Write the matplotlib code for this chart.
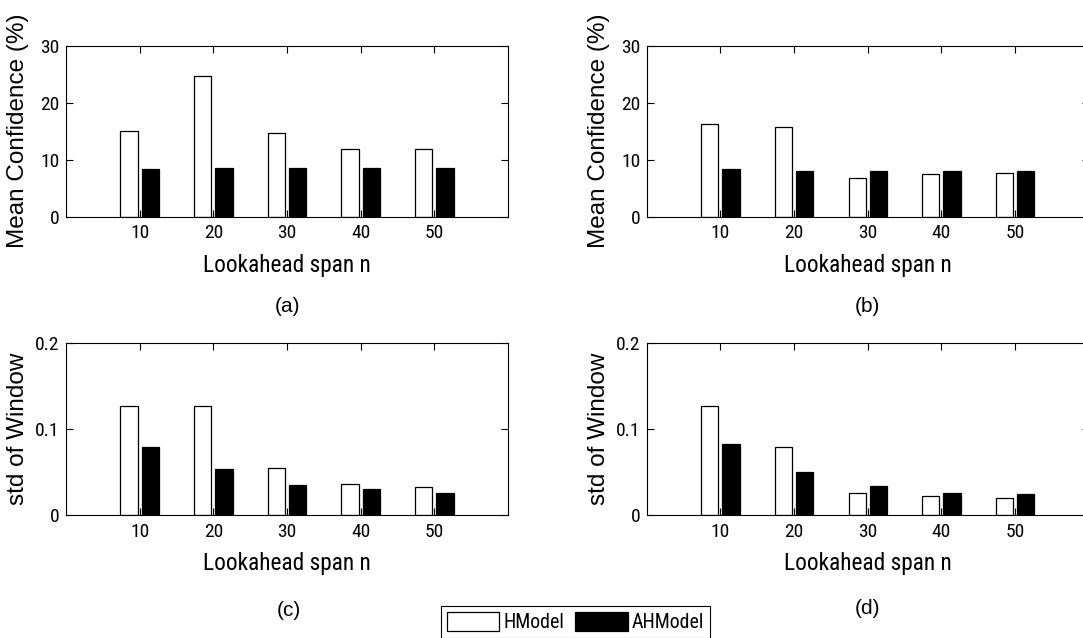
import matplotlib
matplotlib.use("Agg")
import matplotlib.pyplot as plt
from matplotlib import font_manager as fm
import numpy as np

# ---- data ----
spans = [10, 20, 30, 40, 50]
conf_a_hmodel = [15.1, 24.7, 14.6, 11.8, 11.8]
conf_a_ahmodel = [8.3, 8.6, 8.6, 8.6, 8.6]
conf_b_hmodel = [16.2, 15.7, 6.8, 7.5, 7.7]
conf_b_ahmodel = [8.3, 8.0, 8.0, 8.0, 8.0]
std_c_hmodel = [0.126, 0.127, 0.055, 0.036, 0.033]
std_c_ahmodel = [0.0785, 0.053, 0.035, 0.030, 0.026]
std_d_hmodel = [0.127, 0.0785, 0.0255, 0.022, 0.020]
std_d_ahmodel = [0.0824, 0.0495, 0.0333, 0.026, 0.0244]
conf_yticks = [0, 10, 20, 30]
conf_yticklabels = ["0", "10", "20", "30"]
std_yticks = [0, 0.1, 0.2]
std_yticklabels = ["0", "0.1", "0.2"]
series_names = ["HModel", "AHModel"]
panel_tags = ["(a)", "(b)", "(c)", "(d)"]

names = {f.name for f in fm.fontManager.ttflist}
narrow = "Liberation Sans"
for cand in ["Liberation Sans Narrow", "Roboto Condensed", "Archivo Narrow", "PT Sans Narrow"]:
    if cand in names:
        narrow = cand
        break
regular = "Liberation Sans"

W, H = 1083, 638
fig = plt.figure(figsize=(W / 100, H / 100), dpi=100)

def frac_box(left, top, right, bottom):
    return [left / W, 1 - bottom / H, (right - left) / W, (bottom - top) / H]

boxes = [
    frac_box(66.0, 45.7, 508.0, 216.7),
    frac_box(646.7, 45.7, 1088.7, 216.7),
    frac_box(66.0, 342.7, 508.0, 515.0),
    frac_box(646.7, 342.7, 1088.7, 515.0),
]
datasets = [
    (conf_a_hmodel, conf_a_ahmodel, "Mean Confidence (%)", (0, 30), conf_yticks, conf_yticklabels),
    (conf_b_hmodel, conf_b_ahmodel, "Mean Confidence (%)", (0, 30), conf_yticks, conf_yticklabels),
    (std_c_hmodel, std_c_ahmodel, "std of Window", (0, 0.2), std_yticks, std_yticklabels),
    (std_d_hmodel, std_d_ahmodel, "std of Window", (0, 0.2), std_yticks, std_yticklabels),
]
tag_pos = [(287.6, 306.7), (867.3, 306.7), (288.6, 610.0), (867.3, 608.5)]

x = np.array(spans, dtype=float)
bw = 2.35
off = 1.43
handles = None
for i, (box, ds) in enumerate(zip(boxes, datasets)):
    hm, ahm, ylab, ylim, yt, ytl = ds
    ax = fig.add_axes(box)
    b1 = ax.bar(x - off, hm, width=bw, color="white", edgecolor="black", linewidth=0.9, label=series_names[0])
    b2 = ax.bar(x + off, ahm, width=bw, color="black", edgecolor="black", linewidth=0.9, label=series_names[1])
    if handles is None:
        handles = [b1, b2]
    ax.set_xlim(0, 60)
    ax.set_ylim(*ylim)
    ax.set_xticks(spans)
    ax.set_xticklabels([str(s) for s in spans], fontfamily=narrow, fontsize=14)
    ax.set_yticks(yt)
    ax.set_yticklabels(ytl, fontfamily=narrow, fontsize=14)
    ax.tick_params(direction="in", length=5, width=0.8, top=True, right=True, pad=4.5)
    ax.tick_params(axis="x", pad=5.5)
    for sp in ax.spines.values():
        sp.set_linewidth(0.8)
    ax.set_xlabel("Lookahead span n", fontfamily=narrow, fontsize=16.8, va="center")
    ax.xaxis.set_label_coords(0.5, -48.5 / (box[3] * H))
    ax.set_ylabel(ylab, fontfamily=regular, fontsize=17.5)
    ax.yaxis.set_label_coords(-0.083, 0.5)
    tx, ty = tag_pos[i]
    fig.text(tx / W, 1 - ty / H, panel_tags[i], ha="center", va="center",
             fontfamily=regular, fontsize=15)

leg = fig.legend(handles, series_names, ncol=2, loc="upper left",
                 bbox_to_anchor=(440.7 / W, 1 - 605.7 / H), borderaxespad=0,
                 frameon=True, fancybox=False, edgecolor="black", framealpha=1,
                 prop={"family": narrow, "size": 14.3},
                 handlelength=2.65, handleheight=1.12, handletextpad=0.2,
                 columnspacing=0.55, borderpad=0.3)
leg.get_frame().set_linewidth(0.8)

fig.savefig("out.png", dpi=100)
